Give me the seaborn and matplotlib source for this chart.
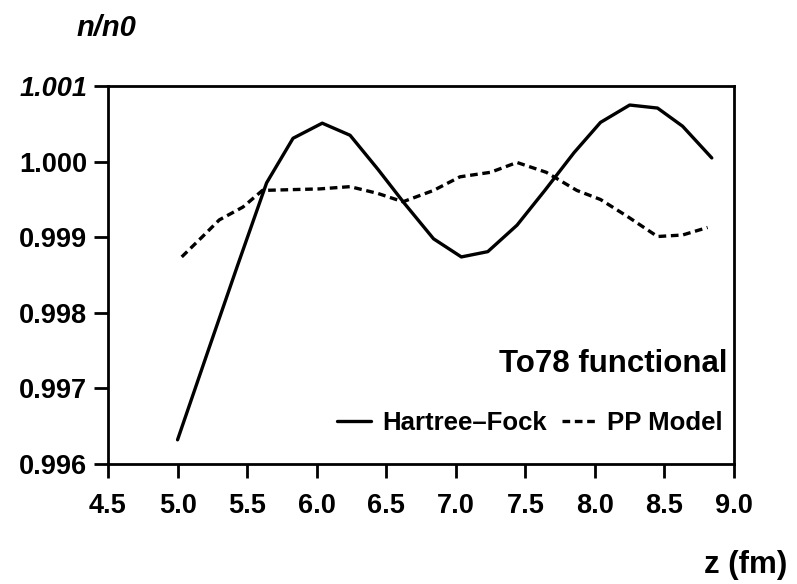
import matplotlib
matplotlib.use("Agg")
import matplotlib.pyplot as plt
import seaborn as sns
import pandas as pd

# ---- data ----
hf_z = [5.00, 5.22, 5.43, 5.64, 5.83, 6.04, 6.24, 6.44, 6.63, 6.84,
        7.04, 7.23, 7.44, 7.64, 7.85, 8.04, 8.25, 8.45, 8.63, 8.84]
hf_n = [0.99632, 0.99750, 0.99862, 0.99972, 1.00031, 1.00051, 1.00035, 0.99990, 0.99945, 0.99898,
        0.99874, 0.99881, 0.99916, 0.99962, 1.00012, 1.00052, 1.00075, 1.00071, 1.00047, 1.00005]

pp_z = [5.03, 5.18, 5.30, 5.47, 5.61, 5.81, 6.02, 6.24, 6.44, 6.62, 6.84,
        7.03, 7.25, 7.44, 7.65, 7.87, 8.04, 8.23, 8.45, 8.63, 8.81]
pp_n = [0.99874, 0.99901, 0.99923, 0.99940, 0.99962, 0.99963, 0.99964, 0.99967, 0.99958, 0.99947, 0.99962,
        0.99980, 0.99986, 0.99999, 0.99986, 0.99962, 0.99950, 0.99928, 0.99901, 0.99903, 0.99913]

x_ticks = [4.5, 5.0, 5.5, 6.0, 6.5, 7.0, 7.5, 8.0, 8.5, 9.0]
y_ticks = [0.996, 0.997, 0.998, 0.999, 1.000, 1.001]
x_tick_labels = ["4.5", "5.0", "5.5", "6.0", "6.5", "7.0", "7.5", "8.0", "8.5", "9.0"]
y_tick_labels = ["0.996", "0.997", "0.998", "0.999", "1.000", "1.001"]
series_names = ["Hartree\u2013Fock", "PP Model"]

sns.set_theme(style="white")
plt.rcParams["font.family"] = ["Liberation Sans", "DejaVu Sans"]
plt.rcParams["text.color"] = "black"

fig = plt.figure(figsize=(7.97, 5.84), dpi=100)
ax = fig.add_axes([0.1355, 0.2055, 0.7855, 0.647])

df_hf = pd.DataFrame({"z": hf_z, "n": hf_n})
df_pp = pd.DataFrame({"z": pp_z, "n": pp_n})

sns.lineplot(data=df_hf, x="z", y="n", ax=ax, color="black", linewidth=2.4,
             label=series_names[0])
sns.lineplot(data=df_pp, x="z", y="n", ax=ax, color="black", linewidth=2.4,
             dashes=False, label=series_names[1])
ax.lines[1].set_dashes([2.3, 1.4])

ax.set_xlim(4.5, 9.0)
ax.set_ylim(0.996, 1.001)
ax.set_xticks(x_ticks)
ax.set_xticklabels(x_tick_labels)
ax.set_yticks(y_ticks)
ax.set_yticklabels(y_tick_labels)
ax.set_xlabel("")
ax.set_ylabel("")

for s in ax.spines.values():
    s.set_visible(True)
    s.set_color("black")
    s.set_linewidth(2.0)

ax.tick_params(axis="both", which="major", direction="out", length=10, width=2.0,
               color="black", labelsize=19.5, labelcolor="black")
ax.tick_params(axis="x", pad=11, bottom=True, top=False)
ax.tick_params(axis="y", pad=5, left=True, right=False)
for lab in ax.get_xticklabels() + ax.get_yticklabels():
    lab.set_fontweight("bold")
ax.get_yticklabels()[-1].set_fontstyle("italic")

leg = ax.legend(loc="center right", bbox_to_anchor=(0.982, 0.108), ncol=2,
                frameon=False, handlelength=1.3, handletextpad=0.45,
                columnspacing=0.6, borderpad=0, borderaxespad=0,
                labelcolor="black",
                prop={"size": 18.5, "weight": "bold"})

ax.text(0.989, 0.243, "To78 functional", transform=ax.transAxes, ha="right",
        va="baseline", fontsize=22.5, fontweight="bold", color="black")

fig.text(0.133, 0.952, "n/n0", ha="center", va="center", fontsize=21,
         fontweight="bold", fontstyle="italic", color="black")
fig.text(0.936, 0.018, "z (fm)", ha="center", va="baseline", fontsize=22.5,
         fontweight="bold", color="black")

fig.savefig("out.png", dpi=100, facecolor="white")
